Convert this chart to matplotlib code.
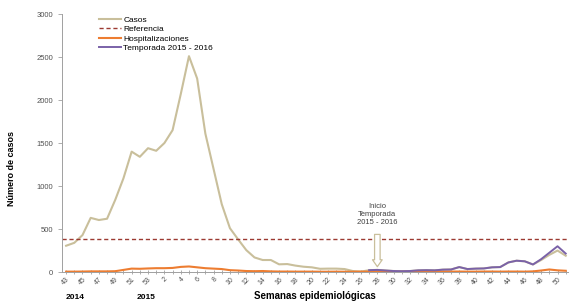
import numpy as np
import matplotlib
matplotlib.use('Agg')
import matplotlib.pyplot as plt

plt.rcParams['font.family'] = ['Liberation Sans', 'DejaVu Sans']

# epidemiological weeks: 2014 wk43..53, 2015 wk1..51
semanas = list(range(43, 54)) + list(range(1, 52))

casos = [306, 340, 430, 630, 605, 620, 840, 1090, 1400, 1340,
         1440, 1410, 1500, 1650, 2070, 2510, 2250, 1610, 1200, 790,
         510, 380, 255, 170, 140, 140, 90, 93, 75, 62,
         55, 38, 40, 40, 35, 12, 5, 22, 25, 18,
         12, 10, 12, 20, 22, 20, 28, 30, 58, 35,
         40, 42, 55, 58, 112, 132, 125, 88, 140, 200,
         250, 190]

hospitalizaciones = [5, 5, 6, 8, 8, 8, 10, 25, 40, 38,
                     42, 45, 45, 48, 60, 65, 55, 45, 40, 35,
                     22, 18, 12, 10, 12, 8, 6, 6, 5, 5,
                     5, 4, 4, 5, 4, 4, 5, 5, 6, 5,
                     4, 4, 5, 5, 6, 5, 5, 6, 6, 5,
                     5, 6, 6, 5, 6, 6, 5, 8, 18, 30,
                     20, 15]

# Temporada 2015 - 2016 starts at 2015 wk27
temporada_inicio = 37
temporada = [22, 25, 18, 12, 10, 12, 20, 22, 20, 28,
             30, 58, 35, 40, 42, 55, 58, 112, 132, 125,
             88, 150, 225, 300, 215]

referencia = 390

x = np.arange(len(semanas))
x_temp = np.arange(temporada_inicio, temporada_inicio + len(temporada))

fig = plt.figure(figsize=(5.69, 3.05), dpi=100)
ax = fig.add_axes([0.109, 0.108, 0.891, 0.846])

ax.plot(x, casos, color='#c9bf9b', lw=1.5, label='Casos')
ax.axhline(referencia, color='#9c3a32', lw=1.0, ls=(0, (3, 2)), label='Referencia')
ax.plot(x, hospitalizaciones, color='#ed7d31', lw=1.5, label='Hospitalizaciones')
ax.plot(x_temp, temporada, color='#7a62a8', lw=1.4, label='Temporada 2015 - 2016')

# start of season marker
ax.annotate('', xy=(38, 30), xytext=(38, 470),
            arrowprops=dict(arrowstyle='simple,head_length=0.5,head_width=0.7,tail_width=0.4',
                            fc='white', ec='#c9bf9b', lw=0.9, mutation_scale=10))
ax.text(38, 530, 'Inicio\nTemporada\n2015 - 2016', ha='center', va='bottom',
        fontsize=5.5, color='#404040', linespacing=1.2)

ax.set_xlim(-0.5, 61.4)
ax.set_ylim(0, 3000)
ax.set_yticks(np.arange(0, 3001, 500))
ax.set_xticks(x[::2])
ax.set_xticklabels([str(s) for s in semanas[::2]], rotation=45, ha='right',
                   rotation_mode='anchor', fontsize=5, color='#505050')
ax.set_xticks(x, minor=True)
ax.tick_params(axis='y', labelsize=5.5, labelcolor='#505050', color='#a0a0a0',
               length=3, width=0.6)
ax.tick_params(axis='x', which='both', color='#a0a0a0', length=2.5, width=0.6,
               direction='inout', pad=1.5)

for s in ['top', 'right']:
    ax.spines[s].set_visible(False)
for s in ['left', 'bottom']:
    ax.spines[s].set_color('#a0a0a0')
    ax.spines[s].set_linewidth(0.7)

ax.set_ylabel('Número de casos', fontsize=6.5, fontweight='bold')
ax.yaxis.set_label_coords(-0.09, 0.40)
fig.text(0.553, 0.014, 'Semanas epidemiológicas', ha='center', va='bottom',
         fontsize=7, fontweight='bold')
fig.text(0.132, 0.014, '2014', ha='center', va='bottom', fontsize=6, fontweight='bold')
fig.text(0.256, 0.014, '2015', ha='center', va='bottom', fontsize=6, fontweight='bold')

ax.legend(loc='upper left', bbox_to_anchor=(0.07, 1.0), frameon=False,
          fontsize=6, handlelength=2.6, labelspacing=0.2, handletextpad=0.3,
          borderaxespad=0, borderpad=0.2)

fig.savefig('out.png', dpi=100)
